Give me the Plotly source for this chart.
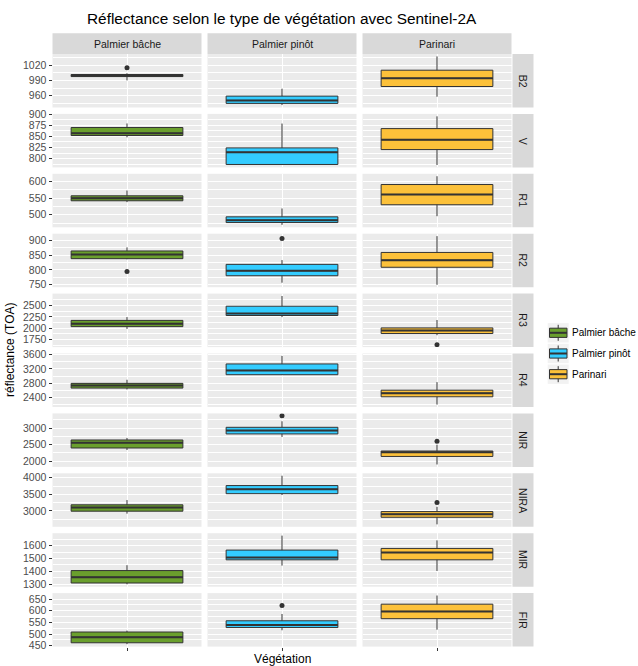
import plotly.graph_objects as go
from plotly.subplots import make_subplots

BANDS = ["B2", "V", "R1", "R2", "R3", "R4", "NIR", "NIRA", "MIR", "FIR"]
VEGETATION = ["Palmier bâche", "Palmier pinôt", "Parinari"]
COLORS = ["#6A9F2D", "#33CCFF", "#FCC13A"]

# box statistics, one value per band (same order as BANDS)
BACHE_LOW = [990, 848, 538, 836, 1987, 2625, 2339, 2917, 1298, 457]
BACHE_Q1 = [997.5, 852, 542, 838, 2037, 2664, 2400, 2991, 1308, 463]
BACHE_MED = [999.5, 857, 550, 852, 2102, 2737, 2561, 3101, 1353, 487]
BACHE_Q3 = [1001.5, 870, 557, 864, 2174, 2796, 2642, 3184, 1405, 509]
BACHE_HIGH = [1004, 879, 573, 876, 2247, 2897, 2703, 3327, 1447, 515]

PINOT_LOW = [941.6, 787, 469.4, 757, 2247, 3030, 2733, 3480, 1444, 516.5]
PINOT_Q1 = [944.9, 787.1, 476.4, 780.4, 2282, 3038, 2824, 3520, 1489, 528]
PINOT_MED = [950.8, 814.4, 483.3, 797.2, 2325, 3159, 2924, 3652, 1507, 539]
PINOT_Q3 = [959.2, 824.3, 493.6, 818.8, 2486, 3339, 3024, 3765, 1565, 557]
PINOT_HIGH = [973.7, 878.8, 518.8, 833.2, 2710, 3563, 3206, 4062, 1678, 586]

PARI_LOW = [958, 786, 495.5, 750, 1848, 2203, 1903, 2593, 1402, 519]
PARI_Q1 = [978, 820.5, 530, 809, 1885, 2420, 2145, 2807, 1489, 566]
PARI_MED = [994, 842.5, 561, 833, 1950, 2521, 2275, 2899, 1546, 597]
PARI_Q3 = [1010, 867.5, 591, 859, 2009, 2605, 2309, 2979, 1578, 628]
PARI_HIGH = [1037, 895, 616, 914, 2182, 2830, 2500, 3122, 1641, 665]

OUT_BAND = ["B2", "R2", "R2", "NIR", "FIR", "R3", "NIR", "NIRA"]
OUT_VEG = ["Palmier bâche", "Palmier bâche", "Palmier pinôt", "Palmier pinôt",
           "Palmier pinôt", "Parinari", "Parinari", "Parinari"]
OUT_VAL = [1015, 795, 906, 3370, 622, 1640, 2600, 3254]

# y tick labels shown on each band row
Y_TICKS = [
    [960, 990, 1020],
    [800, 825, 850, 875, 900],
    [500, 550, 600],
    [750, 800, 850, 900],
    [1750, 2000, 2250, 2500],
    [2400, 2800, 3200, 3600],
    [2000, 2500, 3000],
    [2500, 3000, 3500, 4000],
    [1300, 1400, 1500, 1600],
    [450, 500, 550, 600, 650],
]

STATS = [
    (BACHE_LOW, BACHE_Q1, BACHE_MED, BACHE_Q3, BACHE_HIGH),
    (PINOT_LOW, PINOT_Q1, PINOT_MED, PINOT_Q3, PINOT_HIGH),
    (PARI_LOW, PARI_Q1, PARI_MED, PARI_Q3, PARI_HIGH),
]

W, H = 638, 666
FONT = "Liberation Sans, Arial, sans-serif"
BOX_W = 0.75
LINE = "#333333"

# panel geometry in pixels
LEFT, COL_W, COL_PITCH = 52.5, 149, 155
TOP, ROW_H, ROW_PITCH = 54, 53.5, 59.9


def px(x):
    return x / W


def py(y):
    return 1 - y / H


def label(text, x, y, size=10.5, color="#1A1A1A", angle=0, xanchor="center"):
    return dict(text=text, xref="paper", yref="paper", x=px(x), y=py(y), showarrow=False,
                xanchor=xanchor, yanchor="middle", textangle=angle,
                font=dict(size=size, color=color))


fig = make_subplots(rows=10, cols=3, shared_yaxes=True,
                    horizontal_spacing=0.01, vertical_spacing=0.005)

for i, band in enumerate(BANDS):
    vals = []
    for st in STATS:
        vals += [st[0][i], st[4][i]]
    vals += [v for b, v in zip(OUT_BAND, OUT_VAL) if b == band]
    lo, hi = min(vals), max(vals)
    pad = (hi - lo) * 0.05
    yr = [lo - pad, hi + pad]
    step = Y_TICKS[i][1] - Y_TICKS[i][0]
    top = TOP + i * ROW_PITCH
    ydom = [py(top + ROW_H), py(top)]

    for j, veg in enumerate(VEGETATION):
        low, q1, med, q3, high = (s[i] for s in STATS[j])
        r, c = i + 1, j + 1
        fig.add_trace(go.Box(
            x=[0], q1=[q1], median=[med], q3=[q3], lowerfence=[low], upperfence=[high],
            width=BOX_W, whiskerwidth=0, boxpoints=False,
            fillcolor=COLORS[j], line=dict(color=LINE, width=1),
            name=veg, showlegend=False, hoverinfo="y",
        ), row=r, col=c)
        fig.add_trace(go.Scatter(
            x=[-BOX_W / 2, BOX_W / 2], y=[med, med], mode="lines",
            line=dict(color=LINE, width=2), showlegend=False, hoverinfo="skip",
        ), row=r, col=c)
        outs = [v for b, g, v in zip(OUT_BAND, OUT_VEG, OUT_VAL) if b == band and g == veg]
        if outs:
            fig.add_trace(go.Scatter(
                x=[0] * len(outs), y=outs, mode="markers",
                marker=dict(color=LINE, size=5), showlegend=False,
            ), row=r, col=c)

        fig.update_xaxes(
            domain=[px(LEFT + j * COL_PITCH), px(LEFT + j * COL_PITCH + COL_W)],
            range=[-0.5, 0.5], tickmode="array", tickvals=[0], ticktext=[""],
            showgrid=True, gridcolor="white", gridwidth=1.1, zeroline=False, showline=False,
            ticks="outside" if i == len(BANDS) - 1 else "", ticklen=3, tickcolor=LINE,
            automargin=False, row=r, col=c,
        )
        fig.update_yaxes(
            domain=ydom, range=yr, tickmode="array", tickvals=Y_TICKS[i],
            showgrid=True, gridcolor="white", gridwidth=1.1, zeroline=False, showline=False,
            minor=dict(tick0=Y_TICKS[i][0], dtick=step / 2, showgrid=True,
                       gridcolor="white", gridwidth=0.55),
            ticks="outside" if j == 0 else "", ticklen=3, tickcolor=LINE,
            showticklabels=(j == 0), automargin=False,
            tickfont=dict(size=10.5, color="#4D4D4D", family=FONT),
            row=r, col=c,
        )

shapes, annotations = [], []
# facet strips
for j, veg in enumerate(VEGETATION):
    x0 = LEFT + j * COL_PITCH
    shapes.append(dict(type="rect", xref="paper", yref="paper", x0=px(x0), x1=px(x0 + COL_W),
                       y0=py(54), y1=py(33.3), fillcolor="#D9D9D9", line_width=0, layer="below"))
    annotations.append(label(veg, x0 + COL_W / 2, 43.7))
for i, band in enumerate(BANDS):
    top = TOP + i * ROW_PITCH
    shapes.append(dict(type="rect", xref="paper", yref="paper", x0=px(512.5), x1=px(533.5),
                       y0=py(top + ROW_H), y1=py(top), fillcolor="#D9D9D9", line_width=0, layer="below"))
    annotations.append(label(band, 523, top + ROW_H / 2, angle=90))

# legend drawn as ggplot-style box keys
for k, veg in enumerate(VEGETATION):
    cy = 332.8 + k * 20.7
    shapes += [
        dict(type="rect", xref="paper", yref="paper", x0=px(547.7), x1=px(568.7),
             y0=py(cy + 9.7), y1=py(cy - 9.7), fillcolor="#F2F2F2", line_width=0),
        dict(type="line", xref="paper", yref="paper", x0=px(558.2), x1=px(558.2),
             y0=py(cy + 8), y1=py(cy - 8), line=dict(color=LINE, width=1)),
        dict(type="rect", xref="paper", yref="paper", x0=px(549.5), x1=px(567),
             y0=py(cy + 4.6), y1=py(cy - 4.6), fillcolor=COLORS[k], line=dict(color=LINE, width=1)),
        dict(type="line", xref="paper", yref="paper", x0=px(549.5), x1=px(567),
             y0=py(cy), y1=py(cy), line=dict(color=LINE, width=2)),
    ]
    annotations.append(label(veg, 569.5, cy, size=10, color="black", xanchor="left"))

annotations += [
    label("Réflectance selon le type de végétation avec Sentinel-2A", 282, 19, size=15.4, color="black"),
    label("réflectance (TOA)", 10, 350, size=12, color="black", angle=-90),
    label("Végétation", 282, 659, size=12, color="black"),
]

fig.update_layout(
    width=W, height=H, margin=dict(l=0, r=0, t=0, b=0, pad=0),
    paper_bgcolor="white", plot_bgcolor="#EBEBEB",
    font=dict(family=FONT, color="#1A1A1A"),
    shapes=shapes, annotations=annotations, showlegend=False,
)

# drop the browser's default 8px body margin so the figure sits at the page corner
fig.write_html("out.html", config={"displayModeBar": False},
               post_script="document.body.style.margin='0px';")
